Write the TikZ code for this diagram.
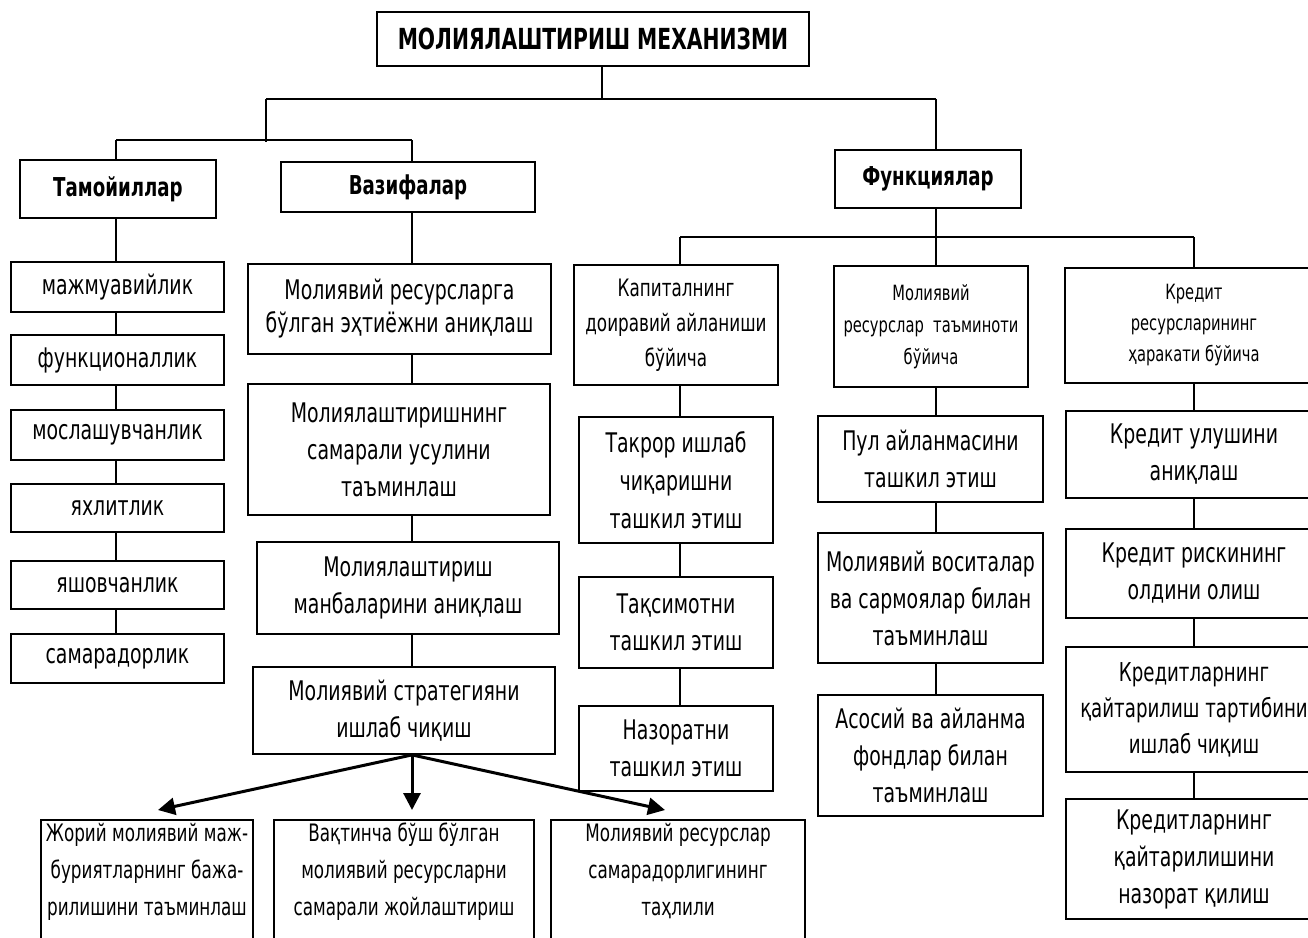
\documentclass[tikz,border=0pt]{standalone}
\usepackage{fontspec}
\setmainfont{DejaVu Sans}[FakeStretch=0.7]
\usetikzlibrary{arrows.meta}
\newcommand{\fsz}[2]{\fontsize{#1}{#2}\selectfont}
\tikzset{
  box/.style={draw, line width=1.8pt, inner sep=0pt, align=center},
  conn/.style={line width=1.4pt},
  bus/.style={line width=2.6pt},
  arr/.style={line width=3pt, -{Triangle[length=17pt,width=17pt]}},
}
% name, x1, y1, x2, y2, font, text
\newcommand{\bx}[7]{\node[box, font={#6}, minimum width={(#4-#2)*1pt}, minimum height={(#5-#3)*1pt}] (#1) at ({(#2+#4)/2},{(#3+#5)/2}) {#7};}
% bottom boxes, open at the lower edge of the picture
\newcommand{\bb}[5]{\node[box, anchor=north, minimum width={(#3-#2)*1pt}] (#1) at ({(#2+#3)/2},819) {\parbox[c][140pt][t]{#4pt}{\centering\fsz{24}{37}\vspace*{3pt}#5}};}
\begin{document}
\begin{tikzpicture}[x=1pt,y=-1pt]
\useasboundingbox (0,0) rectangle (1308,937);
\clip (0,0) rectangle (1308,937);

% top
\bx{title}{377}{12}{809}{66}{\bfseries\fsz{29}{34}}{МОЛИЯЛАШТИРИШ МЕХАНИЗМИ}
\bx{tam}{20}{160}{216}{218}{\bfseries\fsz{26}{30}}{Тамойиллар}
\bx{vaz}{281}{162}{535}{212}{\bfseries\fsz{26}{30}}{Вазифалар}
\bx{funk}{835}{150}{1021}{208}{\bfseries\fsz{26}{30}}{Функциялар}

% principles
\bx{l1}{11}{262}{224}{312}{\fsz{27}{32}}{мажмуавийлик}
\bx{l2}{11}{335}{224}{385}{\fsz{27}{32}}{функционаллик}
\bx{l3}{11}{410}{224}{460}{\fsz{27}{32}}{мослашувчанлик}
\bx{l4}{11}{484}{224}{532}{\fsz{27}{32}}{яхлитлик}
\bx{l5}{11}{561}{224}{609}{\fsz{27}{32}}{яшовчанлик}
\bx{l6}{11}{634}{224}{683}{\fsz{27}{32}}{самарадорлик}

% tasks
\bx{v1}{248}{264}{551}{354}{\fsz{27}{33}}{Молиявий ресурсларга\\бўлган эҳтиёжни аниқлаш}
\bx{v2}{248}{384}{550}{515}{\fsz{27}{37}}{Молиялаштиришнинг\\самарали усулини\\таъминлаш}
\bx{v3}{257}{542}{559}{634}{\fsz{27}{37}}{Молиялаштириш\\манбаларини аниқлаш}
\bx{v4}{253}{667}{555}{754}{\fsz{27}{37}}{Молиявий стратегияни\\ишлаб чиқиш}

\bb{b1}{41}{253}{210}{Жорий молиявий маж-\\буриятларнинг бажа-\\рилишини таъминлаш}
\bb{b2}{274}{534}{258}{Вақтинча бўш бўлган\\молиявий ресурсларни\\самарали жойлаштириш}
\bb{b3}{551}{805}{252}{Молиявий ресурслар\\самарадорлигининг\\таҳлили}

% functions
\bx{k0}{574}{265}{778}{385}{\fsz{24}{35}}{Капиталнинг\\доиравий айланиши\\бўйича}
\bx{k1}{579}{417}{773}{543}{\fsz{27}{38}}{Такрор ишлаб\\чиқаришни\\ташкил этиш}
\bx{k2}{579}{577}{773}{668}{\fsz{27}{37}}{Тақсимотни\\ташкил этиш}
\bx{k3}{579}{706}{773}{791}{\fsz{27}{37}}{Назоратни\\ташкил этиш}

\bx{m0}{834}{266}{1028}{387}{\fsz{21}{32}}{Молиявий\\ресурслар\ \ таъминоти\\бўйича}
\bx{m1}{818}{416}{1043}{502}{\fsz{27}{37}}{Пул айланмасини\\ташкил этиш}
\bx{m2}{818}{533}{1043}{663}{\fsz{27}{37}}{Молиявий воситалар\\ва сармоялар билан\\таъминлаш}
\bx{m3}{818}{695}{1043}{816}{\fsz{27}{37}}{Асосий ва айланма\\фондлар билан\\таъминлаш}

\bx{c0}{1065}{268}{1323}{383}{\fsz{21}{31}}{Кредит\\ресурсларининг\\ҳаракати бўйича}
\bx{c1}{1066}{411}{1322}{498}{\fsz{27}{37}}{Кредит улушини\\аниқлаш}
\bx{c2}{1066}{529}{1322}{618}{\fsz{27}{37}}{Кредит рискининг\\олдини олиш}
\bx{c3}{1066}{647}{1322}{772}{\fsz{26}{36}}{Кредитларнинг\\қайтарилиш тартибини\\ишлаб чиқиш}
\bx{c4}{1066}{799}{1322}{919}{\fsz{27}{37}}{Кредитларнинг\\қайтарилишини\\назорат қилиш}

% junctions
\coordinate (j0) at (602,99);
\coordinate (jL) at (266,99);
\coordinate (jR) at (936,99);
\coordinate (jL2) at (266,142);
\coordinate (t1) at (116,140);
\coordinate (t2) at (412,140);
\coordinate (f2) at (936,237);
\coordinate (fk) at (680,237);
\coordinate (fc) at (1194,237);

\draw[conn] (title.south -| j0) -- (j0);
\draw[bus] (jL) -- (jR);
\draw[conn] (jL) -- (jL2);
\draw[bus] (t1) -- (t2);
\draw[conn] (t1) -- (t1 |- tam.north);
\draw[conn] (t2) -- (t2 |- vaz.north);
\draw[conn] (jR) -- (jR |- funk.north);
\draw[conn] (jR |- funk.south) -- (f2);
\draw[bus] (fk) -- (fc);
\draw[conn] (fk) -- (fk |- k0.north);
\draw[conn] (f2) -- (f2 |- m0.north);
\draw[conn] (fc) -- (fc |- c0.north);

\foreach \a/\b in {tam/l1,l1/l2,l2/l3,l3/l4,l4/l5,l5/l6}
  \draw[conn] (t1 |- \a.south) -- (t1 |- \b.north);
\foreach \a/\b in {vaz/v1,v1/v2,v2/v3,v3/v4}
  \draw[conn] (t2 |- \a.south) -- (t2 |- \b.north);
\foreach \a/\b in {k0/k1,k1/k2,k2/k3}
  \draw[conn] (fk |- \a.south) -- (fk |- \b.north);
\foreach \a/\b in {m0/m1,m1/m2,m2/m3}
  \draw[conn] (f2 |- \a.south) -- (f2 |- \b.north);
\foreach \a/\b in {c0/c1,c1/c2,c2/c3,c3/c4}
  \draw[conn] (fc |- \a.south) -- (fc |- \b.north);

% arrows
\coordinate (a0) at (t2 |- v4.south);
\coordinate (a1) at (158,810);
\coordinate (a2) at (412,810);
\coordinate (a3) at (665,810);
\draw[arr] (a0) -- (a1);
\draw[arr] (a0) -- (a2);
\draw[arr] (a0) -- (a3);
\end{tikzpicture}
\end{document}
